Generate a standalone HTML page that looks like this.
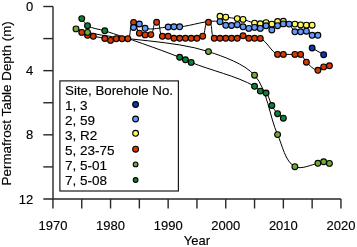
<!DOCTYPE html>
<html><head><meta charset="utf-8"><style>
html,body{margin:0;padding:0;background:#fff;}
body{width:357px;height:247px;overflow:hidden;}
svg{display:block;will-change:transform;}
</style></head><body>
<svg width="357" height="247" viewBox="0 0 357 247">
<rect width="357" height="247" fill="#fff"/>
<g stroke="#262626" stroke-width="1.4" fill="none">
<path d="M53.0 6.5V198.98"/>
<path d="M43.3 198.98H340.95"/>
<path d="M43.3 6.5H53.0"/>
<path d="M43.3 38.58H53.0"/>
<path d="M43.3 70.66H53.0"/>
<path d="M43.3 102.74H53.0"/>
<path d="M43.3 134.82H53.0"/>
<path d="M43.3 166.9H53.0"/>
<path d="M52.95 198.98V208.5"/>
<path d="M81.75 198.98V208.5"/>
<path d="M110.55 198.98V208.5"/>
<path d="M139.35 198.98V208.5"/>
<path d="M168.15 198.98V208.5"/>
<path d="M196.95 198.98V208.5"/>
<path d="M225.75 198.98V208.5"/>
<path d="M254.55 198.98V208.5"/>
<path d="M283.35 198.98V208.5"/>
<path d="M312.15 198.98V208.5"/>
<path d="M340.95 198.98V208.5"/>
</g>
<text x="33.2" y="11.15" text-anchor="end" font-family="Liberation Sans, sans-serif" font-size="13" fill="#000" stroke="#000" stroke-width="0.15">0</text>
<text x="33.2" y="75.31" text-anchor="end" font-family="Liberation Sans, sans-serif" font-size="13" fill="#000" stroke="#000" stroke-width="0.15">4</text>
<text x="33.2" y="139.47" text-anchor="end" font-family="Liberation Sans, sans-serif" font-size="13" fill="#000" stroke="#000" stroke-width="0.15">8</text>
<text x="33.2" y="203.63" text-anchor="end" font-family="Liberation Sans, sans-serif" font-size="13" fill="#000" stroke="#000" stroke-width="0.15">12</text>
<text x="52.95" y="230.2" text-anchor="middle" font-family="Liberation Sans, sans-serif" font-size="13" fill="#000" stroke="#000" stroke-width="0.15">1970</text>
<text x="110.55" y="230.2" text-anchor="middle" font-family="Liberation Sans, sans-serif" font-size="13" fill="#000" stroke="#000" stroke-width="0.15">1980</text>
<text x="168.15" y="230.2" text-anchor="middle" font-family="Liberation Sans, sans-serif" font-size="13" fill="#000" stroke="#000" stroke-width="0.15">1990</text>
<text x="225.75" y="230.2" text-anchor="middle" font-family="Liberation Sans, sans-serif" font-size="13" fill="#000" stroke="#000" stroke-width="0.15">2000</text>
<text x="283.35" y="230.2" text-anchor="middle" font-family="Liberation Sans, sans-serif" font-size="13" fill="#000" stroke="#000" stroke-width="0.15">2010</text>
<text x="340.95" y="230.2" text-anchor="middle" font-family="Liberation Sans, sans-serif" font-size="13" fill="#000" stroke="#000" stroke-width="0.15">2020</text>
<text x="196.95" y="245.3" text-anchor="middle" font-family="Liberation Sans, sans-serif" font-size="13" fill="#000" stroke="#000" stroke-width="0.15">Year</text>
<text transform="translate(11.1 103.35) rotate(-90)" text-anchor="middle" font-family="Liberation Sans, sans-serif" font-size="13.4" fill="#000" stroke="#000" stroke-width="0.15">Permafrost Table Depth (m)</text>
<g stroke="#000" stroke-width="1.0" fill="none">
<path d="M312.15 48C315.61 50.01 320.21 52.69 323.67 54.7"/>
<path d="M133.59 27.5C135.32 26.45 137.33 23.9 139.35 24C141.5 24.1 143.05 27.68 145.11 28.3C151.74 30.3 161.23 27.32 168.15 27C169.88 26.92 172.18 26.83 173.91 26.8C175.64 26.77 177.95 26.91 179.67 26.8C191.84 26.03 208.08 19.08 219.99 21.7C221.98 22.14 223.8 24.7 225.75 25.3C227.4 25.81 229.78 25.59 231.51 25.5C233.25 25.41 235.54 24.52 237.27 24.7C239.1 24.89 241.28 26.24 243.03 26.8C244.74 27.35 247 28.31 248.79 28.4C250.54 28.49 252.8 27.4 254.55 27.4C256.3 27.4 258.57 28.62 260.31 28.4C262.19 28.16 264.18 25.61 266.07 25.8C268.2 26.02 269.69 30.01 271.83 30C273.99 29.99 275.67 26.68 277.59 25.7C279.2 24.88 281.56 24.14 283.35 23.9C285.06 23.67 287.58 23.3 289.11 24.1C291.67 25.44 292.29 30.51 294.87 31.8C296.42 32.57 298.9 31.89 300.63 31.8C302.37 31.71 304.71 30.76 306.39 31.2C308.44 31.74 310.13 34.65 312.15 35.3C313.8 35.83 316.18 35.3 317.91 35.3"/>
<path d="M219.99 16.3C221.72 16.57 224.02 16.96 225.75 17.2C229.2 17.68 233.82 18.15 237.27 18.6C239 18.83 241.33 19.01 243.03 19.4C246.57 20.22 250.99 22.44 254.55 23.2C256.25 23.56 258.57 23.89 260.31 23.8C262.07 23.71 264.31 22.54 266.07 22.6C267.86 22.66 270.04 24.35 271.83 24.2C273.73 24.04 275.73 21.95 277.59 21.5C279.27 21.09 281.63 21.12 283.35 21.3C286.89 21.66 291.38 23.43 294.87 24.1C296.58 24.43 298.89 24.73 300.63 24.9C302.35 25.06 304.66 25.15 306.39 25.2C308.12 25.24 310.42 25.2 312.15 25.2"/>
<path d="M81.75 32.4C83.48 33.27 85.67 34.69 87.51 35.3C89.18 35.85 91.54 35.99 93.27 36.3C96.73 36.93 101.38 37.62 104.79 38.5C106.55 38.96 108.73 40.37 110.55 40.4C112.35 40.43 114.53 38.96 116.31 38.7C118.02 38.45 120.34 38.7 122.07 38.7C123.8 38.7 126.42 39.7 127.83 38.7C132.06 35.71 128.42 22.79 133.59 22.4C137.25 22.12 136.5 30.88 139.35 33.2C140.75 34.34 143.32 34.69 145.11 34.9C146.83 35.1 149.43 35.57 150.87 34.6C154.25 32.32 152.56 22.2 156.63 22.3C161.17 22.41 158.62 33.77 162.39 36.3C163.83 37.26 166.45 36.01 168.15 36.3C169.95 36.6 172.11 38 173.91 38.3C175.61 38.59 177.94 38.3 179.67 38.3C181.4 38.3 183.7 38.3 185.43 38.3C187.16 38.3 189.46 38.3 191.19 38.3C192.92 38.3 195.25 38.6 196.95 38.3C198.76 37.98 201.38 37.47 202.71 36.2C205.97 33.08 203.96 22.19 208.47 22.3C213.57 22.42 210.06 35.37 214.23 38.3C215.64 39.29 218.26 38.3 219.99 38.3C221.72 38.3 224.02 38.3 225.75 38.3C227.48 38.3 229.78 38.3 231.51 38.3C233.24 38.3 235.58 38.65 237.27 38.3C239.11 37.92 241.15 35.8 243.03 35.8C244.91 35.8 246.95 37.92 248.79 38.3C250.48 38.65 252.82 38.29 254.55 38.3C256.28 38.32 258.71 37.76 260.31 38.4C266.87 41.03 271.01 51.82 277.59 54.4C279.2 55.03 281.62 54.4 283.35 54.4C286.81 54.4 291.41 54.4 294.87 54.4C296.6 54.4 299.09 53.62 300.63 54.4C303.23 55.71 304.31 60.17 306.39 62.2C309.41 65.15 313.69 70.13 317.91 70.3C319.91 70.38 321.79 67.61 323.67 66.9C325.32 66.28 327.7 66.13 329.43 65.8"/>
<path d="M75.99 28.9C79.45 29.95 83.99 31.59 87.51 32.4C123.32 40.64 173.54 40.2 208.47 51.6C223.24 56.42 244.15 63.67 254.55 75.2C267.35 89.4 269.59 117.24 277.59 134.6C282.17 144.53 285.1 161.79 294.87 166.7C301.11 169.83 311.06 164.69 317.91 163.3C319.66 162.94 321.88 161.79 323.67 161.8C325.46 161.81 327.7 162.92 329.43 163.4"/>
<path d="M81.75 18.6C83.48 20.73 85.23 24.18 87.51 25.7C92.01 28.7 99.65 29.13 104.79 30.8C127.46 38.15 157.5 48.58 179.67 57.3C181.42 57.99 183.71 59.04 185.43 59.8C187.16 60.57 189.44 61.68 191.19 62.4C209.96 70.17 237 76.07 254.55 86.3C256.49 87.43 258.34 90.01 260.31 91.1C261.9 91.98 264.71 91.79 266.07 93C269.15 95.75 269.77 101.92 271.83 105.5C273.33 108.11 275.52 111.52 277.59 113.7C279.1 115.29 281.62 116.85 283.35 118.2"/>
</g>
<g stroke="#000" stroke-width="1.1">
<circle cx="312.15" cy="48" r="2.9" fill="#0a38b4"/>
<circle cx="323.67" cy="54.7" r="2.9" fill="#0a38b4"/>
<circle cx="219.99" cy="16.3" r="2.9" fill="#fbf85a"/>
<circle cx="225.75" cy="17.2" r="2.9" fill="#fbf85a"/>
<circle cx="237.27" cy="18.6" r="2.9" fill="#fbf85a"/>
<circle cx="243.03" cy="19.4" r="2.9" fill="#fbf85a"/>
<circle cx="254.55" cy="23.2" r="2.9" fill="#fbf85a"/>
<circle cx="260.31" cy="23.8" r="2.9" fill="#fbf85a"/>
<circle cx="266.07" cy="22.6" r="2.9" fill="#fbf85a"/>
<circle cx="271.83" cy="24.2" r="2.9" fill="#fbf85a"/>
<circle cx="277.59" cy="21.5" r="2.9" fill="#fbf85a"/>
<circle cx="283.35" cy="21.3" r="2.9" fill="#fbf85a"/>
<circle cx="294.87" cy="24.1" r="2.9" fill="#fbf85a"/>
<circle cx="300.63" cy="24.9" r="2.9" fill="#fbf85a"/>
<circle cx="306.39" cy="25.2" r="2.9" fill="#fbf85a"/>
<circle cx="312.15" cy="25.2" r="2.9" fill="#fbf85a"/>
<circle cx="81.75" cy="32.4" r="2.9" fill="#d63a02"/>
<circle cx="87.51" cy="35.3" r="2.9" fill="#d63a02"/>
<circle cx="93.27" cy="36.3" r="2.9" fill="#d63a02"/>
<circle cx="104.79" cy="38.5" r="2.9" fill="#d63a02"/>
<circle cx="110.55" cy="40.4" r="2.9" fill="#d63a02"/>
<circle cx="116.31" cy="38.7" r="2.9" fill="#d63a02"/>
<circle cx="122.07" cy="38.7" r="2.9" fill="#d63a02"/>
<circle cx="127.83" cy="38.7" r="2.9" fill="#d63a02"/>
<circle cx="133.59" cy="22.4" r="2.9" fill="#d63a02"/>
<circle cx="139.35" cy="33.2" r="2.9" fill="#d63a02"/>
<circle cx="145.11" cy="34.9" r="2.9" fill="#d63a02"/>
<circle cx="150.87" cy="34.6" r="2.9" fill="#d63a02"/>
<circle cx="156.63" cy="22.3" r="2.9" fill="#d63a02"/>
<circle cx="162.39" cy="36.3" r="2.9" fill="#d63a02"/>
<circle cx="168.15" cy="36.3" r="2.9" fill="#d63a02"/>
<circle cx="173.91" cy="38.3" r="2.9" fill="#d63a02"/>
<circle cx="179.67" cy="38.3" r="2.9" fill="#d63a02"/>
<circle cx="185.43" cy="38.3" r="2.9" fill="#d63a02"/>
<circle cx="191.19" cy="38.3" r="2.9" fill="#d63a02"/>
<circle cx="196.95" cy="38.3" r="2.9" fill="#d63a02"/>
<circle cx="202.71" cy="36.2" r="2.9" fill="#d63a02"/>
<circle cx="208.47" cy="22.3" r="2.9" fill="#d63a02"/>
<circle cx="214.23" cy="38.3" r="2.9" fill="#d63a02"/>
<circle cx="219.99" cy="38.3" r="2.9" fill="#d63a02"/>
<circle cx="225.75" cy="38.3" r="2.9" fill="#d63a02"/>
<circle cx="231.51" cy="38.3" r="2.9" fill="#d63a02"/>
<circle cx="237.27" cy="38.3" r="2.9" fill="#d63a02"/>
<circle cx="243.03" cy="35.8" r="2.9" fill="#d63a02"/>
<circle cx="248.79" cy="38.3" r="2.9" fill="#d63a02"/>
<circle cx="254.55" cy="38.3" r="2.9" fill="#d63a02"/>
<circle cx="260.31" cy="38.4" r="2.9" fill="#d63a02"/>
<circle cx="277.59" cy="54.4" r="2.9" fill="#d63a02"/>
<circle cx="283.35" cy="54.4" r="2.9" fill="#d63a02"/>
<circle cx="294.87" cy="54.4" r="2.9" fill="#d63a02"/>
<circle cx="300.63" cy="54.4" r="2.9" fill="#d63a02"/>
<circle cx="306.39" cy="62.2" r="2.9" fill="#d63a02"/>
<circle cx="317.91" cy="70.3" r="2.9" fill="#d63a02"/>
<circle cx="323.67" cy="66.9" r="2.9" fill="#d63a02"/>
<circle cx="329.43" cy="65.8" r="2.9" fill="#d63a02"/>
<circle cx="133.59" cy="27.5" r="2.9" fill="#6698fa"/>
<circle cx="139.35" cy="24" r="2.9" fill="#6698fa"/>
<circle cx="145.11" cy="28.3" r="2.9" fill="#6698fa"/>
<circle cx="168.15" cy="27" r="2.9" fill="#6698fa"/>
<circle cx="173.91" cy="26.8" r="2.9" fill="#6698fa"/>
<circle cx="179.67" cy="26.8" r="2.9" fill="#6698fa"/>
<circle cx="219.99" cy="21.7" r="2.9" fill="#6698fa"/>
<circle cx="225.75" cy="25.3" r="2.9" fill="#6698fa"/>
<circle cx="231.51" cy="25.5" r="2.9" fill="#6698fa"/>
<circle cx="237.27" cy="24.7" r="2.9" fill="#6698fa"/>
<circle cx="243.03" cy="26.8" r="2.9" fill="#6698fa"/>
<circle cx="248.79" cy="28.4" r="2.9" fill="#6698fa"/>
<circle cx="254.55" cy="27.4" r="2.9" fill="#6698fa"/>
<circle cx="260.31" cy="28.4" r="2.9" fill="#6698fa"/>
<circle cx="266.07" cy="25.8" r="2.9" fill="#6698fa"/>
<circle cx="271.83" cy="30" r="2.9" fill="#6698fa"/>
<circle cx="277.59" cy="25.7" r="2.9" fill="#6698fa"/>
<circle cx="283.35" cy="23.9" r="2.9" fill="#6698fa"/>
<circle cx="289.11" cy="24.1" r="2.9" fill="#6698fa"/>
<circle cx="294.87" cy="31.8" r="2.9" fill="#6698fa"/>
<circle cx="300.63" cy="31.8" r="2.9" fill="#6698fa"/>
<circle cx="306.39" cy="31.2" r="2.9" fill="#6698fa"/>
<circle cx="312.15" cy="35.3" r="2.9" fill="#6698fa"/>
<circle cx="317.91" cy="35.3" r="2.9" fill="#6698fa"/>
<circle cx="75.99" cy="28.9" r="2.9" fill="#70aa38"/>
<circle cx="87.51" cy="32.4" r="2.9" fill="#70aa38"/>
<circle cx="208.47" cy="51.6" r="2.9" fill="#70aa38"/>
<circle cx="254.55" cy="75.2" r="2.9" fill="#70aa38"/>
<circle cx="277.59" cy="134.6" r="2.9" fill="#70aa38"/>
<circle cx="294.87" cy="166.7" r="2.9" fill="#70aa38"/>
<circle cx="317.91" cy="163.3" r="2.9" fill="#70aa38"/>
<circle cx="323.67" cy="161.8" r="2.9" fill="#70aa38"/>
<circle cx="329.43" cy="163.4" r="2.9" fill="#70aa38"/>
<circle cx="81.75" cy="18.6" r="2.9" fill="#108038"/>
<circle cx="87.51" cy="25.7" r="2.9" fill="#108038"/>
<circle cx="104.79" cy="30.8" r="2.9" fill="#108038"/>
<circle cx="179.67" cy="57.3" r="2.9" fill="#108038"/>
<circle cx="185.43" cy="59.8" r="2.9" fill="#108038"/>
<circle cx="191.19" cy="62.4" r="2.9" fill="#108038"/>
<circle cx="254.55" cy="86.3" r="2.9" fill="#108038"/>
<circle cx="260.31" cy="91.1" r="2.9" fill="#108038"/>
<circle cx="266.07" cy="93" r="2.9" fill="#108038"/>
<circle cx="271.83" cy="105.5" r="2.9" fill="#108038"/>
<circle cx="277.59" cy="113.7" r="2.9" fill="#108038"/>
<circle cx="283.35" cy="118.2" r="2.9" fill="#108038"/>
</g>
<rect x="59.9" y="80.9" width="118.5" height="110.1" fill="#fff" stroke="#1a1a1a" stroke-width="1.2"/>
<text x="65.1" y="95" font-family="Liberation Sans, sans-serif" font-size="13.3" fill="#000" stroke="#000" stroke-width="0.15">Site, Borehole No.</text>
<text x="65.1" y="109.92" font-family="Liberation Sans, sans-serif" font-size="13.5" fill="#000" stroke="#000" stroke-width="0.15">1, 3</text>
<circle cx="135.6" cy="104.5" r="2.9" fill="#0a38b4" stroke="#000" stroke-width="1.1"/>
<text x="65.1" y="124.84" font-family="Liberation Sans, sans-serif" font-size="13.5" fill="#000" stroke="#000" stroke-width="0.15">2, 59</text>
<circle cx="135.6" cy="119.0" r="2.9" fill="#6698fa" stroke="#000" stroke-width="1.1"/>
<text x="65.1" y="139.76" font-family="Liberation Sans, sans-serif" font-size="13.5" fill="#000" stroke="#000" stroke-width="0.15">3, R2</text>
<circle cx="135.6" cy="133.3" r="2.9" fill="#fbf85a" stroke="#000" stroke-width="1.1"/>
<text x="65.1" y="154.68" font-family="Liberation Sans, sans-serif" font-size="13.5" fill="#000" stroke="#000" stroke-width="0.15">5, 23-75</text>
<circle cx="135.6" cy="149.2" r="2.9" fill="#d63a02" stroke="#000" stroke-width="1.1"/>
<text x="65.1" y="169.6" font-family="Liberation Sans, sans-serif" font-size="13.5" fill="#000" stroke="#000" stroke-width="0.15">7, 5-01</text>
<circle cx="135.6" cy="164.4" r="2.35" fill="#70aa38" stroke="#000" stroke-width="1.1"/>
<text x="65.1" y="184.52" font-family="Liberation Sans, sans-serif" font-size="13.5" fill="#000" stroke="#000" stroke-width="0.15">7, 5-08</text>
<circle cx="135.6" cy="180.0" r="2.35" fill="#108038" stroke="#000" stroke-width="1.1"/>
</svg>
</body></html>
